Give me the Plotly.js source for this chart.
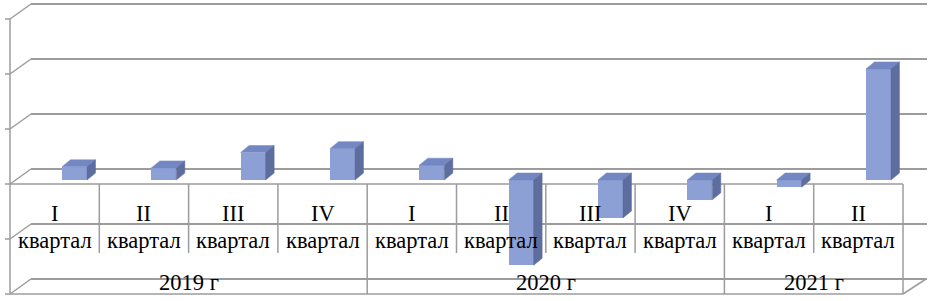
<!DOCTYPE html>
<html>
<head>
<meta charset="utf-8">
<script src="https://cdn.plot.ly/plotly-3.0.1.min.js"></script>
<style>html,body{margin:0;padding:0;background:#fff}#chart{width:931px;height:301px}</style>
</head>
<body>
<div id="chart"></div>
<script>
// ---- data ----
const quarters = ['I', 'II', 'III', 'IV', 'I', 'II', 'III', 'IV', 'I', 'II'];
const quarterWord = 'квартал';
const years = ['2019 г', '2020 г', '2021 г'];
const quartersPerYear = [4, 4, 2];
const values = [2.4, 2.2, 5.0, 5.7, 2.7, -15.5, -6.9, -3.6, -1.3, 20.2];

// ---- geometry / style ----
const W = 931, H = 301;
const FRONT = '#8DA0D6', TOP = '#7387C2', SIDE = '#5C6D9E';
const GRID = '#9c9c9c';
const depthY = -2;          // bars' front plane sits slightly in front of the back wall
const half = 0.14;          // half bar width (category units)
const dx = 0.095, dy = 1.27; // 3D face offset (category units / value units)

const px = x => x / W;
const py = y => 1 - y / H;

const idx = values.map((_, i) => i);
const traces = [{
  type: 'bar', x: idx, y: values, base: values.map(() => depthY), width: half * 2,
  marker: {color: FRONT, line: {width: 0}}, hoverinfo: 'skip'
}];
values.forEach((v, i) => {
  const t = Math.max(v, 0) + depthY, b = Math.min(v, 0) + depthY;
  traces.push({
    type: 'scatter', mode: 'lines', fill: 'toself', fillcolor: TOP,
    line: {color: TOP, width: 0.5}, hoverinfo: 'skip',
    x: [i - half, i + half, i + half + dx, i - half + dx, i - half],
    y: [t, t, t + dy, t + dy, t]
  });
  traces.push({
    type: 'scatter', mode: 'lines', fill: 'toself', fillcolor: SIDE,
    line: {color: SIDE, width: 0.5}, hoverinfo: 'skip',
    x: [i + half, i + half + dx, i + half + dx, i + half, i + half],
    y: [t, t + dy, b + dy, b, t]
  });
});

// frame & category table lines (paper coordinates)
const shapes = [];
const ln = (x0, y0, x1, y1) => shapes.push({
  type: 'line', xref: 'paper', yref: 'paper', layer: 'below',
  x0: px(x0), y0: py(y0), x1: px(x1), y1: py(y1),
  line: {color: GRID, width: 1.5}
});
const left = 10, right = 903, axisY = 184, bottomY = 294;
ln(left, 19, left, bottomY);
[19, 74, 129, 184, 239, 294].forEach(y => { ln(5, y, left, y); ln(left, y, 31, y - 15); });
ln(left, axisY, right, axisY);
ln(left, bottomY, right, bottomY);
ln(right, axisY, right, bottomY);
ln(right, bottomY, 926, bottomY - 15);
const colW = (right - left) / quarters.length;
const yearEnds = [];
quartersPerYear.reduce((acc, n) => { yearEnds.push(acc + n); return acc + n; }, 0);
for (let k = 1; k < quarters.length; k++) {
  const x = left + colW * k;
  ln(x, axisY, x, yearEnds.includes(k) ? bottomY : 253);
}

const font = {family: 'Liberation Serif, Times New Roman, serif', size: 22.5, color: '#000'};
const annotations = [];
quarters.forEach((q, k) => {
  const x = px(left + colW * (k + 0.5));
  annotations.push({xref: 'paper', yref: 'paper', x: x, y: py(213), text: q, showarrow: false,
    font: font, xanchor: 'center', yanchor: 'middle'});
  annotations.push({xref: 'paper', yref: 'paper', x: x, y: py(240), text: quarterWord, showarrow: false,
    font: font, xanchor: 'center', yanchor: 'middle'});
});
let start = 0;
years.forEach((yr, j) => {
  const n = quartersPerYear[j];
  annotations.push({
    xref: 'paper', yref: 'paper', x: px(left + colW * (start + n / 2)), y: py(282),
    text: yr, showarrow: false, font: font, xanchor: 'center', yanchor: 'middle'
  });
  start += n;
});

const layout = {
  width: W, height: H, margin: {l: 0, r: 0, t: 0, b: 0, pad: 0},
  paper_bgcolor: '#fff', plot_bgcolor: 'rgba(0,0,0,0)', showlegend: false,
  xaxis: {domain: [31 / W, 927 / W], range: [(31 - 74.5) / 89.33, (927 - 74.5) / 89.33],
          showgrid: false, zeroline: false, showticklabels: false, showline: false, ticks: ''},
  yaxis: {domain: [0, 1], range: [(169 - 301) / 5.5, 169 / 5.5], tick0: 0, dtick: 10,
          showgrid: true, gridcolor: GRID, gridwidth: 1.5, zeroline: false,
          showticklabels: false, showline: false, ticks: ''},
  shapes: shapes, annotations: annotations, bargap: 0
};
Plotly.newPlot('chart', traces, layout, {displayModeBar: false, staticPlot: true});
</script>
</body>
</html>
